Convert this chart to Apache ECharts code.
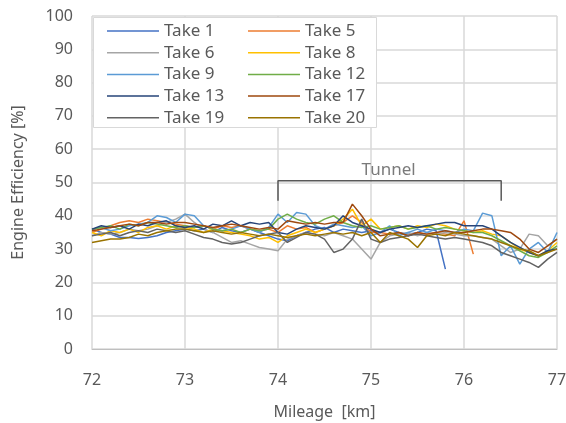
<!DOCTYPE html>
<html>
<head>
<meta charset="utf-8">
<script src="https://cdn.jsdelivr.net/npm/echarts@6/dist/echarts.min.js"></script>
<style>
  html, body { margin: 0; padding: 0; background: #fff; }
  #chart { width: 566px; height: 423px; }
</style>
</head>
<body>
<div id="chart"></div>
<script>
// mileage in km, one point every 0.1 km
var mileage = [72.0,72.1,72.2,72.3,72.4,72.5,72.6,72.7,72.8,72.9,73.0,
  73.1,73.2,73.3,73.4,73.5,73.6,73.7,73.8,73.9,74.0,
  74.1,74.2,74.3,74.4,74.5,74.6,74.7,74.8,74.9,75.0,
  75.1,75.2,75.3,75.4,75.5,75.6,75.7,75.8,75.9,76.0,
  76.1,76.2,76.3,76.4,76.5,76.6,76.7,76.8,76.9,77.0];

var take1 = [36,35,34.5,33.5,33.5,33.2,33.5,34,35,35.5,36,
  35.5,36,35,36.5,35.5,35,36,35,34,33,
  32.5,34,35,36,36.5,35,36,35.5,35,35.5,
  35,36,35,34.5,35,36,35.5,24,null,null,
  null,null,null,null,null,null,null,null,null,null];
var take5 = [35,36,37,38,38.5,38,39,38.5,38,37.5,37,
  36.5,37,36,37,36.5,37,36,35.5,36,35,
  37,36,36.5,35,36,37,38,40,38,35,
  35,34.5,35,34,35,34.5,35,34.5,34,38.5,
  28.5,null,null,null,null,null,null,null,null,null];
var take6 = [34,35,34.5,35,36,35.5,36,37,38,39,40.5,
  38,36,35,33.5,32,32.5,31.5,30.5,30,29.5,
  33,34,35,34.5,34,35,34,33,30,27,
  32,34,34.5,35,34,35,34.5,35,34.5,34,
  34,33.5,33,31,29,30,34.5,34,31,33];
var take8 = [35,34,35.5,35,36,35,36.5,37,36,37,36.5,
  36,35,36,35.5,35,34.5,34,33,33.5,32,
  34,35,36,35,36,37,39,42,37,39,
  36,36.5,37,36,37,36.5,37.5,37,36,35.5,
  35,35.5,34.5,34,32,30,29,28,29.5,32];
var take9 = [36,36.5,35.5,36,37,37.5,38,40,39.5,38,40.5,
  40,37,36,35.5,36,37,36,35,36.5,40.5,
  38,41,40.5,37,36,37.5,37,36.5,37,34,
  35,37,34,35,36,35,36,35.5,35,36,
  35.5,40.8,40,28,31,25.5,30,32,29,35];
var take12 = [36,36.5,37,36,37.5,37,38,37.5,37,36.5,37,
  36.5,37,36,35.5,36,35,36,35.5,36,39,
  40.5,39,38,37.5,39,40,38,37,36.5,37,
  36,36.5,37,36,36.5,37,36,36.5,36,35.5,
  35,35,34,32.5,31,29.5,28,27.5,29,31];
var take13 = [36,37,36.5,37,36,37.5,37,38,38.5,37,36.5,
  37,36,37.5,37,38.5,37,38,37.5,38,35,
  34.5,36,37,36.5,36,37,40,38,37,36,
  35,36,36.5,37,36.5,37,37.5,38,38,37,
  37,37,36,34,32,30.5,29,28,29.5,30];
var take17 = [35.5,36,36.5,37,37.5,37,38,38,37.5,38,38,
  37.5,37,36.5,37,37.5,37,36.5,36,36.5,36,
  38.5,38,37.5,38,37.5,38,38,43.5,40,36,
  34,34.5,35,34,35,34.5,35,35.5,35,35,
  35.5,36,36,35.5,35,33,30,29,31,33];
var take19 = [34,34.5,35,34,35,35.5,35,36,35.5,35,35.5,
  34.5,33.5,33,32,31.5,32,33,34,34.5,35,
  32,33.5,35,34.5,33,29,30,33,39,33,
  32,33,33.5,34,34.5,34,33.5,33,33.5,33,
  32.5,32,31,29,28,27,26,24.5,27,29];
var take20 = [32,32.5,33,33,33.5,34.5,34,35,35.5,36,36,
  35.5,35,35.5,35,34.5,35,34.5,34,34.5,34,
  33.5,34,34.5,34,34.5,35,34.5,35,34,35,
  32,35,34,33,30.5,34,34.5,34,35,34.5,
  34,33.5,33,32,31,30,29.5,28,29,30];

var takeNames = ['Take 1','Take 5','Take 6','Take 8','Take 9','Take 12','Take 13','Take 17','Take 19','Take 20'];
var takeValues = [take1,take5,take6,take8,take9,take12,take13,take17,take19,take20];
var takeColors = ['#4472C4','#ED7D31','#A5A5A5','#FFC000','#5B9BD5','#70AD47','#264478','#9E480E','#636363','#997300'];

// tunnel bracket (km, %) and its label
var tunnelBracket = [[74.0,44.5],[74.0,50.5],[76.4,50.5],[76.4,44.5]];
var tunnelLabel = [[75.19,53.8]];

var xTicks = { min: 72, max: 77, interval: 1 };
var yTicks = { min: 0, max: 100, interval: 10 };

var font = 'Noto Sans';
var textColor = '#595959';

function zip(xs, ys) {
  return xs.map(function (x, i) { return [x, ys[i]]; });
}

var series = takeNames.map(function (name, i) {
  return {
    name: name,
    type: 'line',
    data: zip(mileage, takeValues[i]),
    symbol: 'none',
    connectNulls: false,
    lineStyle: { width: 1.5, color: takeColors[i] },
    itemStyle: { color: takeColors[i] },
    z: 2
  };
});

series.push({
  name: 'tunnel',
  type: 'line',
  data: tunnelBracket,
  symbol: 'none',
  lineStyle: { width: 1.5, color: '#595959' },
  z: 3
});
series.push({
  name: 'tunnelText',
  type: 'scatter',
  data: tunnelLabel,
  symbolSize: 1,
  itemStyle: { color: 'rgba(0,0,0,0)' },
  label: {
    show: true, position: 'inside', formatter: 'Tunnel',
    fontFamily: font, fontSize: 17, color: textColor
  },
  z: 3
});

var legendText = { fontFamily: font, fontSize: 17, color: textColor, lineHeight: 17 };
var legendBase = {
  orient: 'vertical', top: 22.5, padding: 0, icon: 'rect',
  itemWidth: 52, itemHeight: 1.5, itemGap: 4.7, itemTextGap: 5,
  textStyle: legendText
};

var chart = echarts.init(document.getElementById('chart'), null, { renderer: 'canvas' });
chart.setOption({
  animation: false,
  backgroundColor: '#fff',
  grid: { left: 92, right: 9, top: 16, bottom: 74, outerBoundsMode: 'none', containLabel: false },
  graphic: [{
    type: 'rect',
    shape: { x: 93.5, y: 17.5, width: 283, height: 110 },
    style: { fill: '#fff', stroke: '#d9d9d9', lineWidth: 1 },
    z: 3
  }],
  legend: [
    Object.assign({ data: ['Take 1','Take 6','Take 9','Take 13','Take 19'], left: 107 }, legendBase),
    Object.assign({ data: ['Take 5','Take 8','Take 12','Take 17','Take 20'], left: 248 }, legendBase)
  ],
  xAxis: {
    type: 'value', min: xTicks.min, max: xTicks.max, interval: xTicks.interval,
    name: 'Mileage  [km]', nameLocation: 'middle', nameGap: 55,
    nameTextStyle: { fontFamily: font, fontSize: 16, color: textColor },
    axisLine: { show: true, lineStyle: { color: '#bfbfbf', width: 1 } },
    axisTick: { show: false },
    axisLabel: { margin: 23, fontFamily: font, fontSize: 16, color: textColor },
    splitLine: { show: true, lineStyle: { color: '#d9d9d9', width: 1.5 } }
  },
  yAxis: {
    type: 'value', min: yTicks.min, max: yTicks.max, interval: yTicks.interval,
    name: 'Engine Efficiency [%]', nameLocation: 'middle', nameGap: 66,
    nameTextStyle: { fontFamily: font, fontSize: 16, color: textColor },
    axisLine: { show: false },
    axisTick: { show: false },
    axisLabel: { margin: 19, fontFamily: font, fontSize: 16, color: textColor },
    splitLine: { show: true, lineStyle: { color: '#d9d9d9', width: 1.5 } }
  },
  series: series
});
</script>
</body>
</html>
